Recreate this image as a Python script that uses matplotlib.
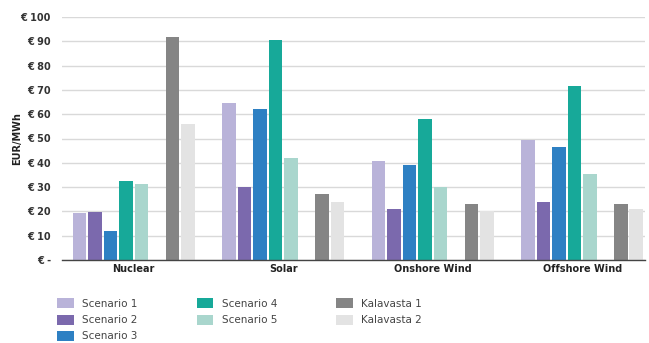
import matplotlib.pyplot as plt
import numpy as np
from matplotlib.patches import Patch

categories = ["Nuclear", "Solar", "Onshore Wind", "Offshore Wind"]
series_names = ["Scenario 1", "Scenario 2", "Scenario 3", "Scenario 4", "Scenario 5",
                "Kalavasta 1", "Kalavasta 2"]
scenario_1 = [19.2, 64.5, 40.8, 49.3]
scenario_2 = [19.8, 30.1, 20.9, 23.8]
scenario_3 = [12.0, 62.3, 38.9, 46.5]
scenario_4 = [32.6, 90.6, 57.9, 71.7]
scenario_5 = [31.4, 41.8, 30.1, 35.3]
kalavasta_1 = [91.9, 27.0, 23.0, 23.0]
kalavasta_2 = [55.9, 23.8, 20.0, 20.9]
yticks = [0, 10, 20, 30, 40, 50, 60, 70, 80, 90, 100]
ytick_labels = ["€ -", "€ 10", "€ 20", "€ 30", "€ 40", "€ 50", "€ 60", "€ 70", "€ 80", "€ 90", "€ 100"]

colors = ["#b9b3d9", "#7b69ad", "#2e80c3", "#17a999", "#a9d6cd", "#858585", "#e3e3e3"]
series = [scenario_1, scenario_2, scenario_3, scenario_4, scenario_5, kalavasta_1, kalavasta_2]
# slot index inside each group; slot 5 is left empty
slots = [0, 1, 2, 3, 4, 6, 7]

fig = plt.figure(figsize=(6.49, 3.43), dpi=100)
ax = fig.add_axes([62 / 649, 1 - 260 / 343, 583 / 649, 243 / 343])

x = np.arange(len(categories))
slot_w = 0.1035
bar_w = 0.092
for vals, col, s in zip(series, colors, slots):
    ax.bar(x + (s - 3.5) * slot_w, vals, width=bar_w, color=col, zorder=3)

ax.set_ylim(0, 100)
ax.set_xlim(-0.48, 3.42)
ax.set_yticks(yticks)
ax.set_yticklabels(ytick_labels, fontsize=7, fontweight="bold", color="#333333")
ax.set_xticks(x)
ax.set_xticklabels(categories, fontsize=7, fontweight="bold", color="#222222")
ax.tick_params(axis="y", length=0, pad=8)
ax.tick_params(axis="x", length=0, pad=3)
ax.grid(axis="y", color="#d9d9d9", linewidth=1, zorder=0)
for sp in ["top", "right", "left"]:
    ax.spines[sp].set_visible(False)
ax.spines["bottom"].set_color("#444444")
ax.spines["bottom"].set_linewidth(1)
ax.spines["bottom"].set_zorder(4)
ax.set_ylabel("EUR/MWh", fontsize=7, fontweight="bold", color="#222222", labelpad=-1)

handles = [Patch(facecolor=c, edgecolor="none") for c in colors]
fig.legend(handles, series_names, ncol=3, loc="upper left",
           bbox_to_anchor=(48 / 649, 1 - 289 / 343), frameon=False,
           fontsize=7.5, labelcolor="#444444", handlelength=1.6, handleheight=1.1,
           handletextpad=0.8, columnspacing=5.65, labelspacing=0.55)

fig.savefig("out.png", dpi=100)
